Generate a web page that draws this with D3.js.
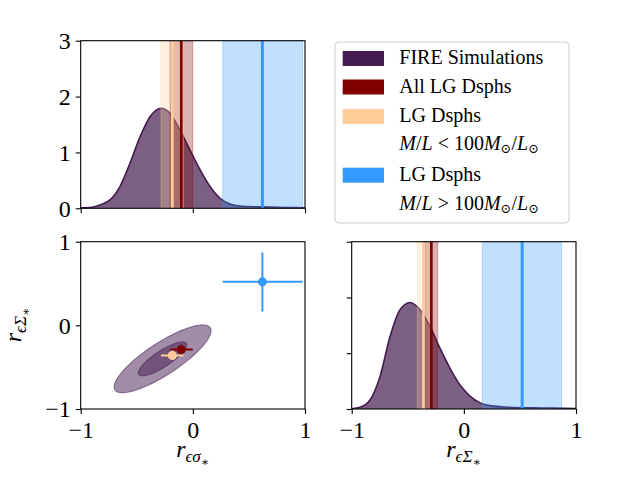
<!DOCTYPE html>
<html><head><meta charset="utf-8">
<script src="https://cdn.jsdelivr.net/npm/d3@7"></script>
<style>
body{margin:0;background:#fff}
svg{display:block}
text{font-family:"Liberation Serif","DejaVu Serif",serif;fill:#000}
</style>
</head><body><svg id="c" width="640" height="480"></svg>
<script>
// ---------------- data ----------------
const seriesNames = ["FIRE Simulations", "All LG Dsphs", "LG Dsphs", "LG Dsphs"];
const seriesColors = ["#441c4f", "#800000", "#ffcc99", "#3399ff"];

// KDE of r_{eps sigma*} (top-left)
const xSigma   = [-1, -0.9, -0.828, -0.739, -0.65, -0.56, -0.471, -0.382, -0.278, -0.219, -0.115, -0.025, 0.064, 0.153, 0.242, 0.331, 0.42, 0.6, 0.8, 1];
const densSigma= [0.01, 0.02, 0.06, 0.15, 0.39, 0.81, 1.28, 1.64, 1.79, 1.73, 1.40, 1.04, 0.69, 0.39, 0.18, 0.077, 0.04, 0.025, 0.015, 0.01];

// KDE of r_{eps Sigma*} (bottom-right)
const xSurf    = [-1, -0.926, -0.837, -0.748, -0.658, -0.569, -0.48, -0.391, -0.302, -0.213, -0.123, -0.034, 0.055, 0.144, 0.233, 0.41, 0.6, 0.8, 1];
const densSurf = [0.005, 0.03, 0.16, 0.58, 1.30, 1.78, 1.91, 1.78, 1.48, 1.09, 0.73, 0.43, 0.23, 0.11, 0.06, 0.03, 0.02, 0.015, 0.01];

// observed correlations: All LG, M/L<100, M/L>100
const obsSigmaMid = [-0.103, -0.183, 0.62];
const obsSigmaLo  = [-0.204, -0.284, 0.266];
const obsSigmaHi  = [-0.001, -0.083, 0.979];
const obsSurfMid  = [-0.29, -0.36, 0.52];
const obsSurfLo   = [-0.346, -0.415, 0.165];
const obsSurfHi   = [-0.233, -0.30, 0.872];

// FIRE joint distribution (ellipses)
const ellipseCenter = [-0.27, -0.40];
const ellipseSigma  = [0.216, 0.2025];
const ellipseRho    = 0.83;
const ellipseLevels = [2, 1];

const corrTicks = [-1, 0, 1];
const densTicks = [0, 1, 2, 3];

// ---------------- drawing ----------------
const svg = d3.select("#c");
const FONT = 24;
const fmt = d => d3.format("d")(d);

function makePanel(x0, x1, y0, y1, xDom, yDom) {
  const x = d3.scaleLinear().domain(xDom).range([x0, x1]);
  const y = d3.scaleLinear().domain(yDom).range([y1, y0]);
  const g = svg.append("g");
  const clipId = "clip" + Math.round(x0) + "_" + Math.round(y0);
  svg.append("clipPath").attr("id", clipId).append("rect")
    .attr("x", x0).attr("y", y0).attr("width", x1 - x0).attr("height", y1 - y0);
  const plot = g.append("g").attr("clip-path", `url(#${clipId})`);
  return {x, y, g, plot, x0, x1, y0, y1};
}

function drawFrame(p, xLabels, yLabels, yTickVals) {
  const ax = p.g.append("g").attr("transform", `translate(0,${p.y1})`)
    .call(d3.axisBottom(p.x).tickValues(corrTicks).tickSize(5).tickSizeOuter(0).tickFormat(xLabels ? fmt : ""));
  const ay = p.g.append("g").attr("transform", `translate(${p.x0},0)`)
    .call(d3.axisLeft(p.y).tickValues(yTickVals).tickSize(5).tickSizeOuter(0).tickFormat(yLabels ? fmt : ""));
  [ax, ay].forEach(a => {
    a.select(".domain").remove();
    a.selectAll("line").attr("stroke", "#000").attr("stroke-width", 1.1);
    a.selectAll("text").style("font-size", FONT + "px").attr("font-family", null);
  });
  ax.selectAll("text").attr("y", 29).attr("dy", "0");
  ay.selectAll("text").attr("x", -10).attr("dy", "0.33em");
  p.g.append("rect").attr("x", p.x0).attr("y", p.y0)
    .attr("width", p.x1 - p.x0).attr("height", p.y1 - p.y0)
    .attr("fill", "none").attr("stroke", "#000").attr("stroke-width", 1.1);
}

function drawDensity(p, xs, ys, mid, lo, hi) {
  const pts = xs.map((v, i) => [v, ys[i]]);
  const area = d3.area().x(d => p.x(d[0])).y0(p.y(0)).y1(d => p.y(d[1])).curve(d3.curveMonotoneX);
  const line = d3.line().x(d => p.x(d[0])).y(d => p.y(d[1])).curve(d3.curveMonotoneX);
  p.plot.append("path").attr("d", area(pts)).attr("fill", seriesColors[0]).attr("fill-opacity", 0.7);
  p.plot.append("path").attr("d", line(pts)).attr("fill", "none")
    .attr("stroke", seriesColors[0]).attr("stroke-width", 1.6);
  const yTop = p.y.domain()[1];
  mid.forEach((m, i) => {
    const c = seriesColors[i + 1];
    p.plot.append("rect")
      .attr("x", p.x(lo[i])).attr("width", p.x(hi[i]) - p.x(lo[i]))
      .attr("y", p.y(yTop)).attr("height", p.y(0) - p.y(yTop))
      .attr("fill", c).attr("fill-opacity", 0.3)
      .attr("stroke", c).attr("stroke-opacity", 0.3).attr("stroke-width", 1);
  });
  mid.forEach((m, i) => {
    const c = seriesColors[i + 1];
    p.plot.append("line").attr("x1", p.x(m)).attr("x2", p.x(m))
      .attr("y1", p.y(yTop)).attr("y2", p.y(0))
      .attr("stroke", c).attr("stroke-width", i === 2 ? 3 : 2.7);
  });
}

// Top-left
const pTL = makePanel(80.7, 305, 40.7, 208.3, [-1, 1], [0, 3]);
drawDensity(pTL, xSigma, densSigma, obsSigmaMid, obsSigmaLo, obsSigmaHi);
drawFrame(pTL, false, true, densTicks);

// Bottom-right
const pBR = makePanel(351.7, 576, 241.7, 409, [-1, 1], [0, 3]);
drawDensity(pBR, xSurf, densSurf, obsSurfMid, obsSurfLo, obsSurfHi);
drawFrame(pBR, true, false, densTicks);

// Bottom-left (joint)
const pBL = makePanel(80.7, 305, 241.7, 409, [-1, 1], [-1, 1]);
ellipseLevels.forEach(n => {
  const pts = d3.range(0, 361, 3).map(a => {
    const t = a * Math.PI / 180;
    const ex = ellipseCenter[0] + n * ellipseSigma[0] * Math.cos(t);
    const ey = ellipseCenter[1] + n * ellipseSigma[1] * (ellipseRho * Math.cos(t) + Math.sqrt(1 - ellipseRho * ellipseRho) * Math.sin(t));
    return [pBL.x(ex), pBL.y(ey)];
  });
  pBL.plot.append("path").attr("d", d3.line()(pts) + "Z")
    .attr("fill", seriesColors[0]).attr("fill-opacity", 0.5)
    .attr("stroke", seriesColors[0]).attr("stroke-opacity", 0.5).attr("stroke-width", 1.2);
});
[0, 1, 2].forEach(i => {
  const c = seriesColors[i + 1];
  const cx = pBL.x(obsSigmaMid[i]), cy = pBL.y(obsSurfMid[i]);
  pBL.plot.append("line").attr("x1", pBL.x(obsSigmaLo[i])).attr("x2", pBL.x(obsSigmaHi[i]))
    .attr("y1", cy).attr("y2", cy).attr("stroke", c).attr("stroke-width", 2);
  pBL.plot.append("line").attr("x1", cx).attr("x2", cx)
    .attr("y1", pBL.y(obsSurfLo[i])).attr("y2", pBL.y(obsSurfHi[i])).attr("stroke", c).attr("stroke-width", 2);
  pBL.plot.append("circle").attr("cx", cx).attr("cy", cy).attr("r", 4.5).attr("fill", c);
});
drawFrame(pBL, true, true, corrTicks);

// Axis labels
function subLabel(sel, sym) {
  sel.append("tspan").attr("font-style", "italic").text("r");
  sel.append("tspan").attr("font-size", "17px").attr("font-style", "italic").attr("dy", "5").text("ϵ" + sym);
  sel.append("tspan").attr("font-size", "12px").attr("dy", "4").text("∗");
}
subLabel(svg.append("text").attr("x", 192.5).attr("y", 457).attr("text-anchor", "middle")
  .style("font-size", FONT + "px"), "σ");
subLabel(svg.append("text").attr("x", 463.5).attr("y", 457).attr("text-anchor", "middle")
  .style("font-size", FONT + "px"), "Σ");
subLabel(svg.append("text").attr("transform", "translate(21,325) rotate(-90)").attr("text-anchor", "middle")
  .style("font-size", FONT + "px"), "Σ");

// Legend
const LFONT = 20;
const lg = svg.append("g");
lg.append("rect").attr("x", 335).attr("y", 42).attr("width", 234).attr("height", 181).attr("rx", 4)
  .attr("fill", "#fff").attr("fill-opacity", 0.8).attr("stroke", "#cccccc").attr("stroke-width", 1);
const swY = [51, 79.5, 109, 167.7];
const txY = [64, 92.7, 121.7, 180.7];
seriesColors.forEach((c, i) => {
  lg.append("rect").attr("x", 342.7).attr("y", swY[i]).attr("width", 41.3).attr("height", 15).attr("fill", c);
  lg.append("text").attr("x", 399.3).attr("y", txY[i]).style("font-size", LFONT + "px").text(seriesNames[i]);
});
function mlText(y, op) {
  const t = lg.append("text").attr("x", 399.3).attr("y", y).style("font-size", LFONT + "px");
  t.append("tspan").attr("font-style", "italic").text("M");
  t.append("tspan").text("/");
  t.append("tspan").attr("font-style", "italic").text("L");
  t.append("tspan").text(" " + op + " 100");
  t.append("tspan").attr("font-style", "italic").text("M");
  t.append("tspan").attr("font-size", "13px").attr("dy", "3").text("⊙");
  t.append("tspan").attr("dy", "-3").text("/");
  t.append("tspan").attr("font-style", "italic").text("L");
  t.append("tspan").attr("font-size", "13px").attr("dy", "3").text("⊙");
}
mlText(150, "<");
mlText(210, ">");
</script>
</body></html>
